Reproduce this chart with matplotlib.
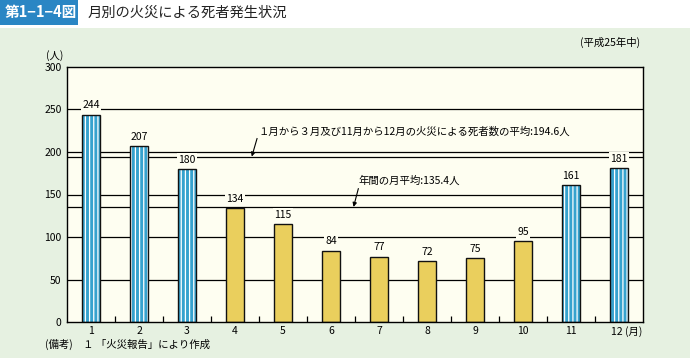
import numpy as np
import matplotlib
matplotlib.use("Agg")
import matplotlib.pyplot as plt
import matplotlib.transforms as mtransforms
from matplotlib.patches import Rectangle

plt.rcParams["font.family"] = ["Noto Sans CJK JP", "DejaVu Sans"]
plt.rcParams["hatch.color"] = "white"
plt.rcParams["hatch.linewidth"] = 0.9

months = [1, 2, 3, 4, 5, 6, 7, 8, 9, 10, 11, 12]
deaths = [244, 207, 180, 134, 115, 84, 77, 72, 75, 95, 161, 181]
winter = [True, True, True, False, False, False, False, False, False, False, True, True]
avg_winter = 194.6
avg_year = 135.4
yticks = [0, 50, 100, 150, 200, 250, 300]
xlabels = [str(m) for m in months[:-1]] + ["12 (月)"]

BLUE = "#36A2CE"
YELLOW = "#EACF5D"
BG = "#E6F1E1"
FACE = "#FEFEF1"

fig = plt.figure(figsize=(6.9, 3.58), dpi=100)
fig.patch.set_facecolor(BG)

# header band
fig.patches.append(Rectangle((0, 1 - 28 / 358), 1, 28 / 358, transform=fig.transFigure,
                             facecolor="white", edgecolor="none", zorder=0))
fig.patches.append(Rectangle((0, 1 - 25 / 358), 78 / 690, 25 / 358, transform=fig.transFigure,
                             facecolor="#2A86C4", edgecolor="none", zorder=1))
fig.text(5 / 690, 1 - 12.5 / 358, "第1−1−4図", color="white", fontsize=10.5,
         fontweight="bold", va="center", ha="left")
fig.text(88 / 690, 1 - 12.5 / 358, "月別の火災による死者発生状況", color="#222222",
         fontsize=10.3, va="center", ha="left")

ax = fig.add_axes([67 / 690, 1 - 322 / 358, 576 / 690, 255 / 358])
ax.set_facecolor(FACE)

for y in yticks[1:-1]:
    ax.axhline(y, color="black", lw=0.9, zorder=1)
ax.axhline(avg_winter, color="black", lw=0.9, zorder=1)
ax.axhline(avg_year, color="black", lw=0.9, zorder=1)

for m, v, w in zip(months, deaths, winter):
    if w:
        ax.bar(m, v, width=0.38, color=BLUE, hatch="||||", edgecolor="white",
               linewidth=0, zorder=2)
        ax.bar(m, v, width=0.38, fill=False, edgecolor="#111111", linewidth=1.0, zorder=3)
    else:
        ax.bar(m, v, width=0.38, color=YELLOW, edgecolor="#111111", linewidth=1.0, zorder=2)
    ax.text(m, v + 5, str(v), ha="center", va="bottom", fontsize=7.5, zorder=4,
            bbox=dict(boxstyle="square,pad=0.15", facecolor=FACE, edgecolor="none"))

ax.set_xlim(0.5, 12.5)
ax.set_ylim(0, 300)
ax.set_yticks(yticks)
ax.set_xticks(months)
ax.set_xticklabels(xlabels, fontsize=7.5)
ax.tick_params(axis="x", length=0, pad=3)
ax.tick_params(axis="y", length=0, labelsize=7.5, pad=4)
ax.set_xticks(np.arange(1.5, 12, 1), minor=True)
ax.tick_params(axis="x", which="minor", direction="in", length=4, width=0.9)
for s in ax.spines.values():
    s.set_linewidth(1.0)
labs = ax.get_xticklabels()
labs[-1].set_horizontalalignment("left")
labs[-1].set_transform(labs[-1].get_transform()
                       + mtransforms.ScaledTranslation(-8 / 100, 0, fig.dpi_scale_trans))

# average annotations
ax.text(4.48, 224, "１月から３月及び11月から12月の火災による死者数の平均:194.6人",
        fontsize=7.5, ha="left", va="center", zorder=4,
        bbox=dict(boxstyle="square,pad=0.1", facecolor=FACE, edgecolor="none"))
ax.annotate("", xy=(4.35, avg_winter), xytext=(4.46, 216),
            arrowprops=dict(arrowstyle="-|>", color="black", lw=0.8, mutation_scale=6,
                            shrinkA=0, shrinkB=0))
ax.text(6.58, 166, "年間の月平均:135.4人",
        fontsize=7.5, ha="left", va="center", zorder=4,
        bbox=dict(boxstyle="square,pad=0.1", facecolor=FACE, edgecolor="none"))
ax.annotate("", xy=(6.47, avg_year), xytext=(6.57, 157),
            arrowprops=dict(arrowstyle="-|>", color="black", lw=0.8, mutation_scale=6,
                            shrinkA=0, shrinkB=0))

fig.text(55 / 690, 1 - 56 / 358, "(人)", fontsize=7.5, ha="center", va="center")
fig.text(640 / 690, 1 - 42 / 358, "(平成25年中)", fontsize=7.5, ha="right", va="center")
fig.text(45 / 690, 1 - 344 / 358, "(備考)　１ 「火災報告」により作成", fontsize=7.5,
         ha="left", va="center")

fig.savefig("out.png", dpi=100, facecolor=BG)
